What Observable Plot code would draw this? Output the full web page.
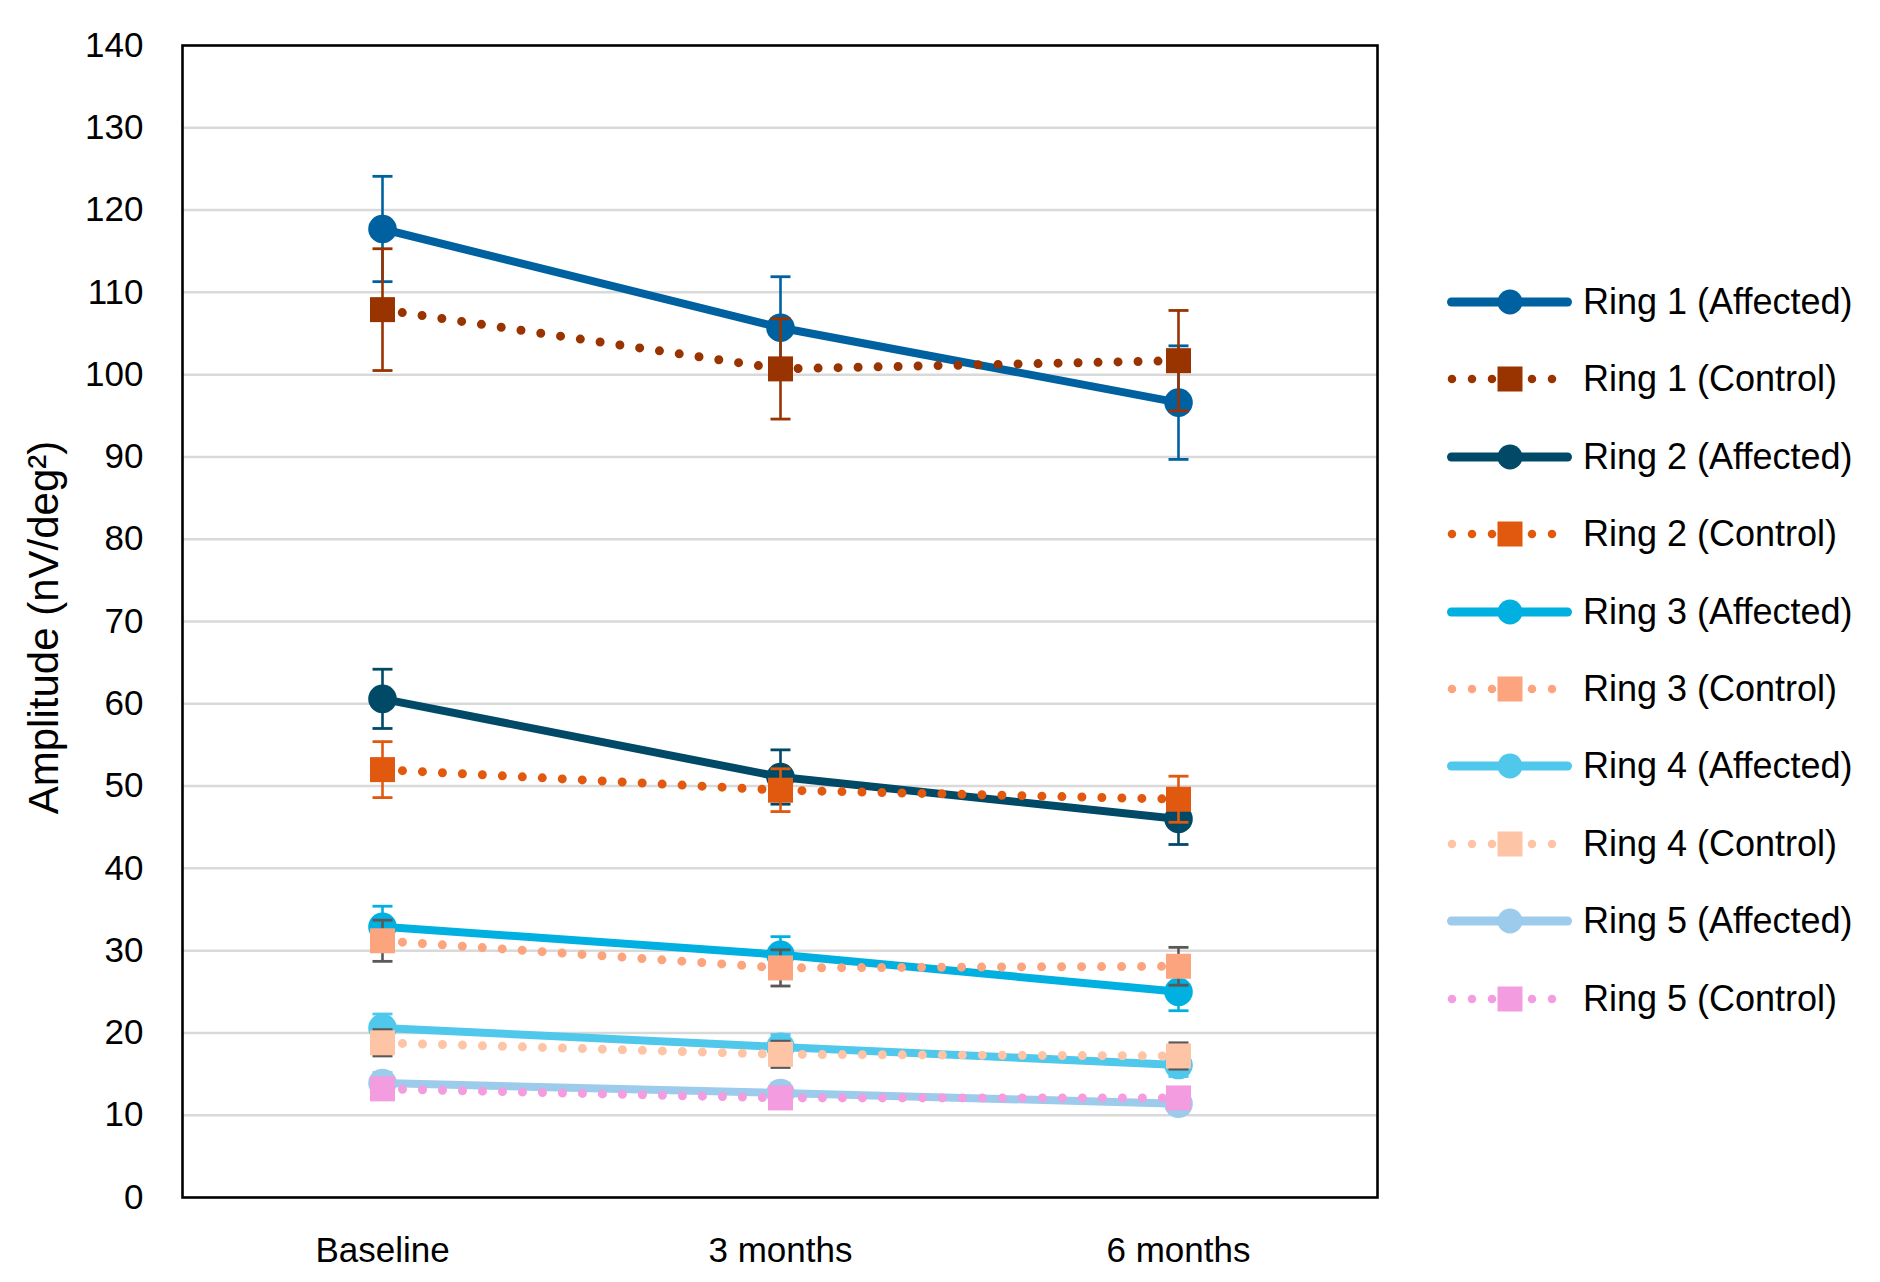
<!DOCTYPE html>
<html>
<head>
<meta charset="utf-8">
<script src="https://cdn.jsdelivr.net/npm/d3@7"></script>
<script src="https://cdn.jsdelivr.net/npm/@observablehq/plot@0.6"></script>
<style>
  html, body { margin: 0; padding: 0; background: #fff; }
  #wrap { position: relative; width: 1880px; height: 1282px; background: #fff; font-family: "Liberation Sans", Arial, sans-serif; }
  #legend { position: absolute; left: 1440px; top: 0; }
  .lrow { position: absolute; left: 0; height: 50px; display: flex; align-items: center; white-space: nowrap; }
  .lrow span { font-size: 36px; color: #000; margin-left: 3px; }
</style>
</head>
<body>
<div id="wrap"><div id="legend"></div></div>
<script>
// ---------- data ----------
const categories = ["Baseline", "3 months", "6 months"];
const yTicks = [0, 10, 20, 30, 40, 50, 60, 70, 80, 90, 100, 110, 120, 130, 140];
const seriesNames = [
  "Ring 1 (Affected)", "Ring 1 (Control)", "Ring 2 (Affected)", "Ring 2 (Control)",
  "Ring 3 (Affected)", "Ring 3 (Control)", "Ring 4 (Affected)", "Ring 4 (Control)",
  "Ring 5 (Affected)", "Ring 5 (Control)"
];
const ring1Affected = [117.7, 105.7, 96.6];
const ring1AffectedErr = [6.4, 6.2, 6.9];
const ring1Control = [107.9, 100.7, 101.7];
const ring1ControlErr = [7.4, 6.1, 6.1];
const ring2Affected = [60.6, 51.1, 46.0];
const ring2AffectedErr = [3.6, 3.3, 3.1];
const ring2Control = [52.0, 49.5, 48.4];
const ring2ControlErr = [3.4, 2.6, 2.8];
const ring3Affected = [32.9, 29.5, 25.0];
const ring3AffectedErr = [2.5, 2.2, 2.3];
const ring3Control = [31.2, 27.9, 28.1];
const ring3ControlErr = [2.5, 2.2, 2.3];
const ring4Affected = [20.6, 18.3, 16.1];
const ring4AffectedErr = [1.7, 1.5, 1.4];
const ring4Control = [18.8, 17.4, 17.2];
const ring4ControlErr = [1.6, 1.6, 1.6];
const ring5Affected = [13.9, 12.7, 11.4];
const ring5AffectedErr = [1.3, 1.2, 1.2];
const ring5Control = [13.2, 12.1, 12.1];
const ring5ControlErr = [1.1, 1.1, 1.1];

const seriesValues = [ring1Affected, ring1Control, ring2Affected, ring2Control, ring3Affected,
  ring3Control, ring4Affected, ring4Control, ring5Affected, ring5Control];
const seriesErrors = [ring1AffectedErr, ring1ControlErr, ring2AffectedErr, ring2ControlErr, ring3AffectedErr,
  ring3ControlErr, ring4AffectedErr, ring4ControlErr, ring5AffectedErr, ring5ControlErr];

// ---------- styles ----------
const seriesColors = ["#0061A0", "#993300", "#004A68", "#E0590F", "#00B0E0",
  "#FBA47D", "#4FC8EC", "#FDC4A6", "#9CCBEB", "#F39CDF"];
const errorColors = ["#0061A0", "#993300", "#004A68", "#E0590F", "#00B0E0",
  "#595959", "#4FC8EC", "#595959", "#9CCBEB", "#6E5A6E"];
const isControl = seriesNames.map(n => n.includes("Control"));

const capSymbol = {
  draw(ctx) { ctx.moveTo(-10, 0); ctx.lineTo(10, 0); }
};

// ---------- marks ----------
const marks = [];
marks.push(Plot.ruleY(yTicks.filter(v => v > 0 && v < 140), {stroke: "#D9D9D9", strokeWidth: 2.5}));

seriesNames.forEach((name, s) => {
  const rows = categories.map((c, i) => ({
    series: name, cat: c, value: seriesValues[s][i], err: seriesErrors[s][i]
  }));
  const col = seriesColors[s];
  const ecol = errorColors[s];
  // error bars
  marks.push(Plot.ruleX(rows, {x: "cat", y1: d => d.value - d.err, y2: d => d.value + d.err, stroke: ecol, strokeWidth: 2.6}));
  marks.push(Plot.dot(rows, {x: "cat", y: d => d.value + d.err, symbol: capSymbol, r: 5, fill: "none", stroke: ecol, strokeWidth: 2.8}));
  marks.push(Plot.dot(rows, {x: "cat", y: d => d.value - d.err, symbol: capSymbol, r: 5, fill: "none", stroke: ecol, strokeWidth: 2.8}));
  // line
  if (isControl[s]) {
    marks.push(Plot.line(rows, {x: "cat", y: "value", stroke: col, strokeWidth: 9,
      strokeDasharray: "0 20", strokeLinecap: "round"}));
    marks.push(Plot.dot(rows, {x: "cat", y: "value", symbol: "square", r: 14.1, fill: col, stroke: "none"}));
  } else {
    marks.push(Plot.line(rows, {x: "cat", y: "value", stroke: col, strokeWidth: 8, strokeLinecap: "butt"}));
    marks.push(Plot.dot(rows, {x: "cat", y: "value", symbol: "circle", r: 14.3, fill: col, stroke: "none"}));
  }
});

marks.push(Plot.frame({stroke: "#000", strokeWidth: 2.6}));
marks.push(Plot.axisX({tickSize: 0, tickPadding: 40, fontSize: 35, label: null}));
marks.push(Plot.axisY({ticks: yTicks, tickSize: 0, tickPadding: 39, fontSize: 35, label: null}));
marks.push(Plot.text(["Amplitude (nV/deg\u00B2)"], {
  frameAnchor: "left", textAnchor: "middle", dx: -138, dy: 6, rotate: -90, fontSize: 42, text: d => d, fill: "#000"
}));

const chart = Plot.plot({
  width: 1880, height: 1282,
  marginLeft: 182, marginRight: 503, marginTop: 45, marginBottom: 85,
  style: {fontFamily: "'Liberation Sans', Arial, sans-serif", color: "#000", background: "#fff", overflow: "visible"},
  x: {type: "point", domain: categories, padding: 0.5},
  y: {domain: [0, 140]},
  marks
});
document.getElementById("wrap").prepend(chart);

// ---------- legend ----------
const legend = d3.select("#legend");
seriesNames.forEach((name, s) => {
  const row = legend.append("div").attr("class", "lrow").style("top", (302 + s * 77.4 - 25) + "px");
  const svg = row.append("svg").attr("width", 140).attr("height", 50);
  const col = seriesColors[s];
  if (isControl[s]) {
    svg.append("line").attr("x1", 12).attr("x2", 113).attr("y1", 25).attr("y2", 25)
      .attr("stroke", col).attr("stroke-width", 8.5).attr("stroke-dasharray", "0 20").attr("stroke-linecap", "round");
    svg.append("rect").attr("x", 70 - 12.5).attr("y", 25 - 12.5).attr("width", 25).attr("height", 25).attr("fill", col);
  } else {
    svg.append("line").attr("x1", 11.5).attr("x2", 127.5).attr("y1", 25).attr("y2", 25)
      .attr("stroke", col).attr("stroke-width", 9).attr("stroke-linecap", "round");
    svg.append("circle").attr("cx", 70).attr("cy", 25).attr("r", 12.5).attr("fill", col);
  }
  row.append("span").text(name);
});
</script>
</body>
</html>
